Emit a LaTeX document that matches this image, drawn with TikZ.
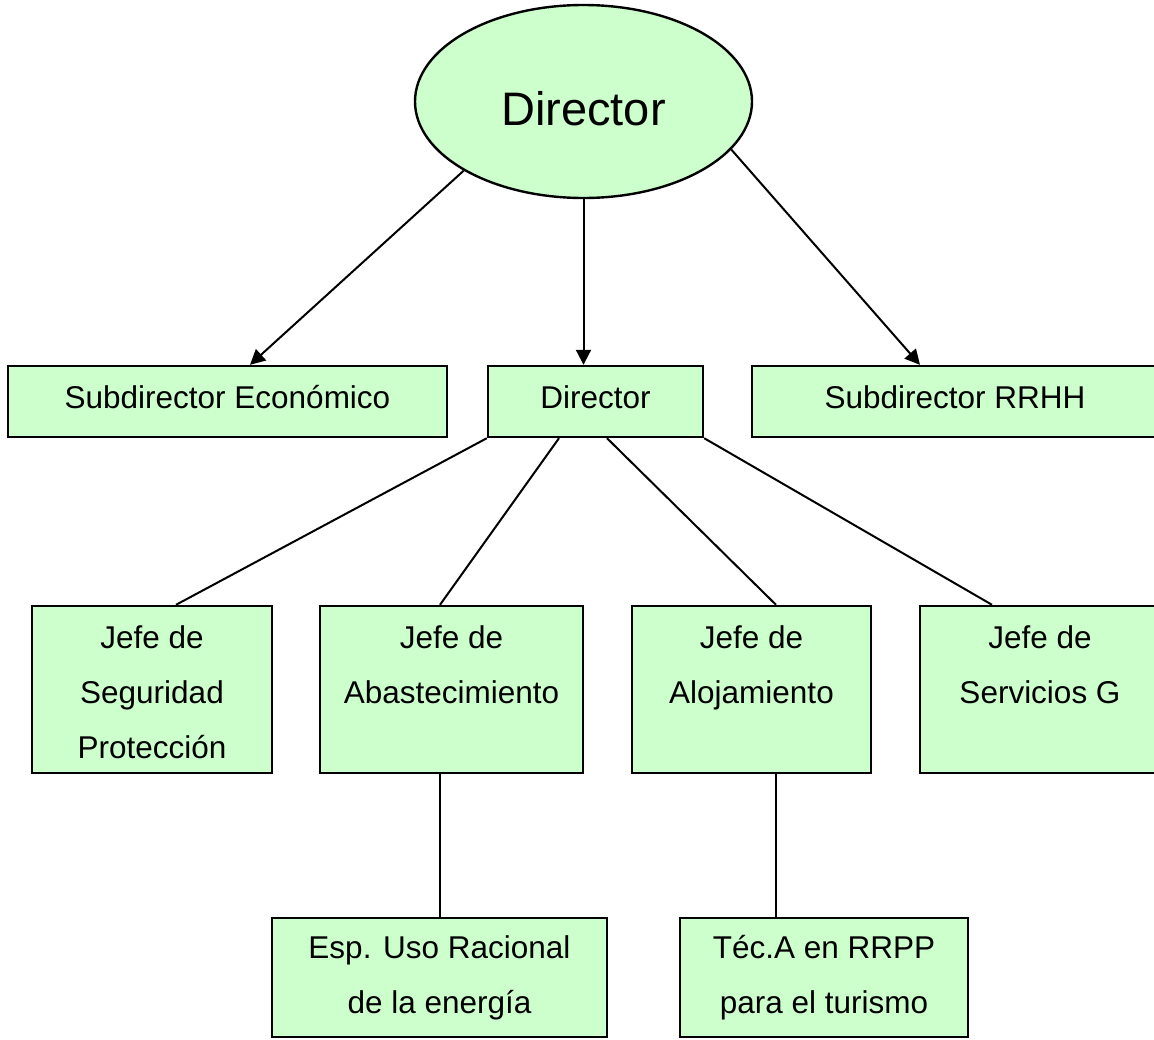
\documentclass[tikz,border=0pt]{standalone}
\usepackage{fontspec}
\setmainfont{Liberation Sans}
\usetikzlibrary{arrows.meta,shapes.geometric}
\definecolor{boxgreen}{HTML}{CCFFCC}
\begin{document}
\begin{tikzpicture}[x=1pt,y=-1pt,
  unit/.style={draw=black,line width=2.4pt,fill=boxgreen,inner sep=0pt,
    align=center,font=\fontsize{31.5}{55}\selectfont},
  oneline/.style={text height=23pt,text depth=9pt},
  link/.style={line width=2pt},
  arrowlink/.style={line width=2pt,-{Triangle[length=15pt,width=15pt]}}]
\clip (0,0) rectangle (1154,1039);
\fill[white] (0,0) rectangle (1154,1039);

% top of the chart
\node[draw=black,line width=2.4pt,fill=boxgreen,ellipse,minimum width=337pt,
  minimum height=193pt,inner sep=0pt,font=\fontsize{47}{50}\selectfont,
  text height=47pt,text depth=0pt]
  (dir) at (583.5,101.5) {Director};

% second level
\node[unit,oneline,minimum width=439pt,minimum height=71pt] (eco) at (227.5,401.5) {Subdirector Económico};
\node[unit,oneline,minimum width=215pt,minimum height=71pt] (dir2) at (595.5,401.5) {Director};
\node[unit,oneline,minimum width=406pt,minimum height=71pt] (rrhh) at (955,401.5) {Subdirector RRHH};

% department heads
\node[unit,minimum width=240pt,minimum height=167pt] (seg) at (152,689.5) {\rule{0pt}{28pt}Jefe de\\Seguridad\\Protección};
\node[unit,minimum width=263pt,minimum height=167pt] (aba) at (451.5,689.5) {\rule{0pt}{28pt}Jefe de\\Abastecimiento\\\vphantom{Protección}};
\node[unit,minimum width=239pt,minimum height=167pt] (alo) at (751.5,689.5) {\rule{0pt}{28pt}Jefe de\\Alojamiento\\\vphantom{Protección}};
\node[unit,minimum width=240pt,minimum height=167pt] (ser) at (1040,689.5) {\rule{0pt}{28pt}Jefe de\\Servicios G\\\vphantom{Protección}};

% specialists
\node[unit,minimum width=335pt,minimum height=119pt] (esp) at (439.5,977.5) {Esp. Uso Racional\\de la energía};
\node[unit,minimum width=288pt,minimum height=119pt] (tec) at (824,977.5) {Téc.A en RRPP\\para el turismo};

% arrows from the top
\draw[arrowlink] (dir.210.8) -- ([xshift=22.5pt]eco.north);
\draw[arrowlink] (dir.south) -- (dir.south |- dir2.north);
\draw[arrowlink] (dir.-18.7) -- ([xshift=-35pt]rrhh.north);

% lines to department heads
\draw[link] (dir2.south west) -- ([xshift=24pt]seg.north);
\draw[link] ([xshift=-36.5pt]dir2.south) -- ([xshift=-11.5pt]aba.north);
\draw[link] ([xshift=11.5pt]dir2.south) -- ([xshift=24.5pt]alo.north);
\draw[link] (dir2.south east) -- ([xshift=-48pt]ser.north);

% lines to specialists
\draw[link] ([xshift=-11.5pt]aba.south) -- ([xshift=-11.5pt]aba.south |- esp.north);
\draw[link] ([xshift=24.5pt]alo.south) -- ([xshift=24.5pt]alo.south |- tec.north);
\end{tikzpicture}
\end{document}
